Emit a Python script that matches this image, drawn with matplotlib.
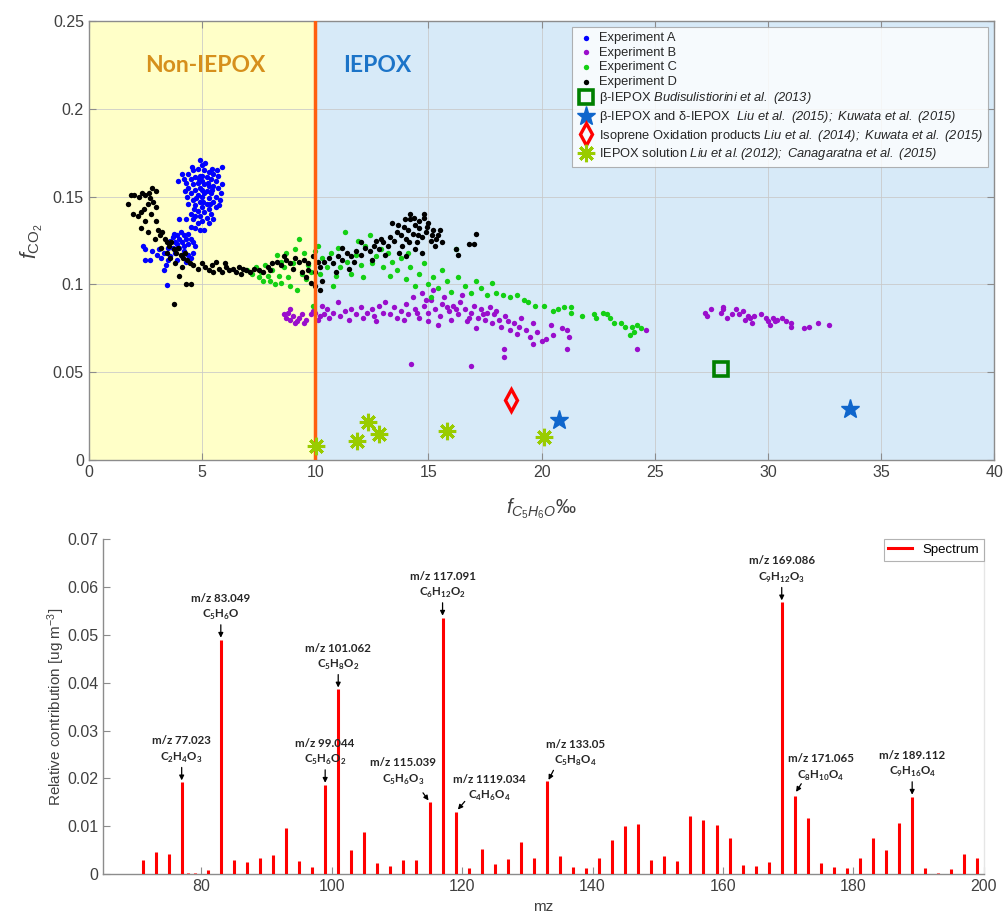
import numpy as np
import matplotlib
matplotlib.use("Agg")
import matplotlib.pyplot as plt
from matplotlib.ticker import FormatStrFormatter, MultipleLocator

plt.rcParams["font.family"] = ["Liberation Sans", "DejaVu Sans"]
plt.rcParams["mathtext.fontset"] = "custom"
plt.rcParams["mathtext.rm"] = "Liberation Sans"
plt.rcParams["mathtext.it"] = "Liberation Sans:italic"
plt.rcParams["mathtext.sf"] = "Liberation Sans:italic"
plt.rcParams["mathtext.bf"] = "Lato:bold"

# ---------- top panel: f_CO2 vs f_C5H6O ----------
exp_a = [
    (4.9, 0.171), (5.0, 0.168), (4.8, 0.166), (5.1, 0.165), (4.6, 0.165), (5.3, 0.164), (4.4, 0.163),
    (5.5, 0.163), (5.9, 0.167), (4.2, 0.160), (4.5, 0.160), (4.7, 0.161), (4.9, 0.162), (5.2, 0.161),
    (5.4, 0.160), (5.6, 0.159), (5.9, 0.157), (4.3, 0.158), (4.6, 0.157), (4.8, 0.158), (5.0, 0.159),
    (5.1, 0.157), (5.3, 0.156), (5.5, 0.156), (5.7, 0.155), (4.4, 0.155), (4.7, 0.154), (4.9, 0.155),
    (5.2, 0.153), (5.4, 0.152), (5.85, 0.152), (4.5, 0.152), (4.8, 0.151), (5.0, 0.150), (5.1, 0.152),
    (5.3, 0.149), (5.6, 0.150), (4.6, 0.148), (4.9, 0.147), (5.2, 0.146), (5.5, 0.147), (5.8, 0.148),
    (4.4, 0.146), (4.7, 0.145), (5.0, 0.144), (5.3, 0.143), (5.6, 0.144), (4.8, 0.142), (5.1, 0.141),
    (5.4, 0.140), (4.5, 0.140), (4.9, 0.139), (5.2, 0.138), (5.5, 0.137), (4.6, 0.137), (4.8, 0.135),
    (5.0, 0.136), (5.3, 0.135), (4.5, 0.133), (4.7, 0.132), (4.9, 0.131), (5.1, 0.131), (4.3, 0.137),
    (4.0, 0.137), (3.95, 0.159), (4.1, 0.163), (5.7, 0.162), (5.0, 0.162), (4.75, 0.149), (5.25, 0.158),
    (4.55, 0.167), (5.15, 0.169), (5.45, 0.166), (4.35, 0.150), (5.75, 0.145), (5.05, 0.147), (4.65, 0.143),
    (5.35, 0.146), (4.85, 0.160), (5.45, 0.154), (4.25, 0.153), (5.65, 0.165), (5.0, 0.154), (4.7, 0.139),
    (2.4, 0.122), (2.5, 0.120), (2.5, 0.114), (2.7, 0.114), (2.8, 0.119), (3.0, 0.117), (3.1, 0.120),
    (3.2, 0.115), (3.3, 0.118), (3.4, 0.111), (3.5, 0.114), (3.5, 0.121), (3.6, 0.125), (3.7, 0.127),
    (3.8, 0.124), (3.9, 0.128), (4.0, 0.126), (4.1, 0.124), (4.2, 0.128), (4.3, 0.126), (4.4, 0.123),
    (4.5, 0.126), (4.6, 0.124), (4.7, 0.122), (4.6, 0.118), (4.4, 0.117), (4.2, 0.119), (4.0, 0.121),
    (3.8, 0.118), (3.7, 0.121), (3.9, 0.114), (4.1, 0.116), (4.3, 0.113), (4.5, 0.115), (3.45, 0.0997),
    (3.3, 0.108), (3.6, 0.116), (4.2, 0.122), (3.9, 0.123), (4.4, 0.129), (3.75, 0.129), (4.05, 0.130),
]

exp_b = [
    (8.6, 0.083), (8.7, 0.081), (8.8, 0.084), (8.9, 0.080), (9.0, 0.082), (9.1, 0.078), (9.2, 0.079),
    (9.3, 0.081), (9.5, 0.078), (9.6, 0.080), (9.8, 0.083), (9.9, 0.085), (10.0, 0.084), (10.1, 0.080),
    (10.2, 0.082), (10.3, 0.088), (10.4, 0.083), (10.5, 0.086), (10.6, 0.081), (8.9, 0.086), (9.4, 0.083),
    (10.8, 0.084), (11.0, 0.090), (11.1, 0.082), (11.3, 0.085), (11.5, 0.080), (11.6, 0.086), (11.8, 0.083),
    (12.0, 0.087), (12.1, 0.081), (12.3, 0.084), (12.5, 0.086), (12.6, 0.082), (12.8, 0.088), (13.0, 0.084),
    (13.1, 0.090), (13.3, 0.083), (13.5, 0.087), (13.6, 0.081), (13.8, 0.085), (14.0, 0.089), (14.1, 0.083),
    (14.3, 0.093), (14.4, 0.086), (14.6, 0.081), (14.7, 0.095), (14.8, 0.088), (15.0, 0.084), (15.1, 0.091),
    (15.2, 0.097), (15.3, 0.086), (15.5, 0.082), (15.6, 0.089), (15.7, 0.093), (15.9, 0.085), (16.0, 0.080),
    (16.1, 0.088), (16.3, 0.083), (16.4, 0.090), (16.6, 0.086), (16.7, 0.079), (16.9, 0.084), (17.0, 0.088),
    (17.2, 0.081), (17.3, 0.086), (17.5, 0.080), (17.6, 0.084), (17.8, 0.078), (17.9, 0.083), (18.1, 0.080),
    (18.2, 0.076), (18.4, 0.082), (18.5, 0.079), (18.6, 0.074), (18.8, 0.078), (18.9, 0.072), (19.0, 0.076),
    (19.3, 0.074), (19.5, 0.070), (19.6, 0.078), (19.8, 0.073), (20.0, 0.068), (20.2, 0.069), (20.4, 0.077),
    (20.5, 0.071), (20.9, 0.075), (21.1, 0.074), (21.2, 0.070), (21.1, 0.063), (18.35, 0.063), (18.35, 0.059),
    (14.25, 0.055), (16.9, 0.0535), (19.6, 0.066), (24.2, 0.063), (24.6, 0.074), (15.4, 0.077), (17.1, 0.075),
    (12.7, 0.079), (19.1, 0.081), (16.5, 0.094), (14.9, 0.091), (16.2, 0.086), (17.7, 0.087), (13.9, 0.080),
    (15.0, 0.079), (16.8, 0.081), (18.0, 0.085), (14.5, 0.084), (15.8, 0.087), (17.4, 0.083),
    (27.2, 0.084), (27.3, 0.082), (27.5, 0.086), (27.9, 0.084), (28.0, 0.086), (28.2, 0.081), (28.4, 0.083),
    (28.6, 0.086), (28.7, 0.083), (28.9, 0.085), (29.0, 0.080), (29.1, 0.082), (29.2, 0.081), (29.3, 0.078),
    (29.4, 0.082), (29.7, 0.083), (29.9, 0.081), (30.0, 0.079), (30.1, 0.077), (30.2, 0.081), (30.4, 0.080),
    (30.6, 0.081), (30.8, 0.079), (31.0, 0.078), (31.0, 0.076), (31.6, 0.075), (31.8, 0.076), (32.2, 0.078),
    (32.7, 0.077), (28.0, 0.087), (30.3, 0.079),
]

exp_c = [
    (7.0, 0.108), (7.2, 0.106), (7.4, 0.110), (7.5, 0.104), (7.6, 0.107), (7.8, 0.111), (7.9, 0.105),
    (8.0, 0.102), (8.1, 0.108), (8.3, 0.117), (8.4, 0.105), (8.5, 0.101), (8.6, 0.110), (8.7, 0.118),
    (8.8, 0.104), (8.9, 0.099), (9.0, 0.112), (9.1, 0.120), (9.2, 0.097), (9.3, 0.126), (9.4, 0.106),
    (9.5, 0.118), (9.6, 0.103), (9.7, 0.111), (9.8, 0.107), (10.0, 0.119), (10.1, 0.122), (10.2, 0.106),
    (10.3, 0.115), (9.9, 0.088), (8.2, 0.100), (10.5, 0.110), (10.7, 0.118), (10.9, 0.105), (11.0, 0.121),
    (11.1, 0.110), (11.3, 0.130), (11.4, 0.113), (11.6, 0.106), (11.8, 0.117), (12.0, 0.111), (12.2, 0.122),
    (12.4, 0.128), (12.5, 0.112), (12.7, 0.116), (12.9, 0.120), (13.0, 0.110), (13.2, 0.118), (13.4, 0.113),
    (13.6, 0.108), (13.8, 0.115), (14.0, 0.103), (14.2, 0.110), (14.4, 0.099), (14.6, 0.106), (14.8, 0.112),
    (15.0, 0.100), (15.2, 0.104), (15.4, 0.098), (15.6, 0.108), (15.8, 0.102), (16.0, 0.096), (16.2, 0.120),
    (16.3, 0.104), (16.6, 0.099), (16.9, 0.095), (17.1, 0.102), (17.3, 0.098), (17.6, 0.094), (17.8, 0.101),
    (18.0, 0.095), (18.3, 0.094), (18.6, 0.093), (18.9, 0.094), (19.2, 0.091), (19.4, 0.090), (19.7, 0.088),
    (20.1, 0.088), (20.5, 0.085), (20.7, 0.086), (21.0, 0.087), (21.3, 0.087), (21.3, 0.084), (21.8, 0.082),
    (22.3, 0.083), (22.4, 0.081), (22.7, 0.084), (22.9, 0.083), (23.0, 0.081), (23.2, 0.078), (23.5, 0.078),
    (23.7, 0.076), (23.9, 0.071), (24.0, 0.076), (24.2, 0.077), (24.4, 0.075), (24.1, 0.073), (11.9, 0.125),
    (10.8, 0.099), (15.1, 0.093), (13.3, 0.105), (7.7, 0.102), (8.5, 0.113), (12.1, 0.104), (14.1, 0.118),
]

exp_d = [
    (1.75, 0.146), (1.85, 0.151), (2.0, 0.151), (2.2, 0.150), (2.35, 0.152), (2.5, 0.151), (2.65, 0.152),
    (2.8, 0.155), (2.95, 0.153), (1.95, 0.140), (2.15, 0.139), (2.3, 0.141), (2.45, 0.143), (2.6, 0.146),
    (2.7, 0.149), (2.85, 0.147), (2.95, 0.144), (2.75, 0.140), (2.5, 0.136), (2.3, 0.132), (2.6, 0.130),
    (2.95, 0.136), (3.05, 0.131), (3.15, 0.128), (3.25, 0.130), (2.9, 0.126), (3.35, 0.126), (3.45, 0.124),
    (3.55, 0.122), (3.65, 0.124), (3.75, 0.120), (3.85, 0.118), (3.95, 0.121), (4.05, 0.117), (4.15, 0.115),
    (4.25, 0.118), (4.35, 0.114), (4.45, 0.112), (3.6, 0.115), (3.45, 0.118), (3.2, 0.121), (3.8, 0.112),
    (4.0, 0.105), (4.3, 0.100), (4.5, 0.100), (3.75, 0.089), (4.1, 0.110),
    (4.6, 0.111), (4.8, 0.109), (5.0, 0.112), (5.15, 0.110), (5.3, 0.108), (5.45, 0.111), (5.6, 0.113),
    (5.75, 0.109), (5.9, 0.107), (6.05, 0.110), (6.2, 0.108), (6.35, 0.109), (6.5, 0.107), (6.65, 0.110),
    (6.8, 0.109), (6.95, 0.108), (7.1, 0.107), (7.3, 0.109), (7.5, 0.108), (7.7, 0.107), (7.9, 0.110),
    (8.1, 0.112), (8.3, 0.113), (8.5, 0.111), (8.7, 0.114), (8.9, 0.112), (9.1, 0.115), (9.3, 0.113),
    (9.5, 0.114), (9.7, 0.112), (9.9, 0.116), (10.1, 0.113), (6.0, 0.112), (5.5, 0.107), (6.7, 0.106),
    (8.0, 0.108), (8.6, 0.116), (9.0, 0.109), (9.4, 0.107), (9.6, 0.104), (9.8, 0.101), (10.0, 0.099),
    (10.2, 0.097), (10.3, 0.102), (9.7, 0.108), (10.0, 0.107), (10.2, 0.110),
    (10.4, 0.113), (10.6, 0.115), (10.8, 0.112), (11.0, 0.116), (11.2, 0.114), (11.4, 0.118), (11.6, 0.116),
    (11.8, 0.119), (12.0, 0.117), (12.2, 0.121), (12.4, 0.119), (12.6, 0.122), (12.8, 0.120), (13.0, 0.124),
    (13.2, 0.122), (13.3, 0.127), (13.5, 0.125), (13.6, 0.130), (13.8, 0.128), (13.9, 0.133), (14.0, 0.126),
    (14.1, 0.131), (14.2, 0.137), (14.3, 0.129), (14.4, 0.134), (14.5, 0.124), (14.6, 0.132), (14.7, 0.127),
    (14.8, 0.138), (14.9, 0.130), (15.0, 0.135), (15.1, 0.125), (15.2, 0.131), (15.3, 0.122), (15.4, 0.128),
    (14.2, 0.140), (14.8, 0.140), (13.4, 0.135), (13.7, 0.118), (14.0, 0.116), (14.4, 0.120), (14.7, 0.118),
    (12.5, 0.114), (11.5, 0.109), (10.9, 0.107), (12.9, 0.126), (15.6, 0.124), (16.2, 0.120), (16.3, 0.117),
    (16.8, 0.123), (17.0, 0.123), (17.1, 0.129), (11.2, 0.121), (12.0, 0.124), (13.1, 0.117), (14.6, 0.136),
    (13.65, 0.134), (14.35, 0.138), (14.95, 0.133), (15.15, 0.128), (13.85, 0.122), (14.15, 0.124),
    (14.55, 0.128), (15.35, 0.126), (12.7, 0.125), (13.95, 0.137), (15.5, 0.131), (11.7, 0.113),
]

beta_iepox = [(27.9, 0.052)]
beta_delta_iepox = [(20.75, 0.023), (33.6, 0.029)]
isoprene_ox = [(18.65, 0.0345)]
iepox_solution = [(10.05, 0.008), (11.85, 0.011), (12.35, 0.022), (12.8, 0.015), (15.8, 0.0165), (20.1, 0.013)]

# ---------- bottom panel: spectrum ----------
mz = [71, 73, 75, 77, 78, 79, 81, 83, 85, 87, 89, 91, 93, 95, 97, 99, 101, 103, 105, 107, 109,
      111, 113, 115, 117, 119, 121, 123, 125, 127, 129, 131, 133, 135, 137, 139, 141, 143, 145,
      147, 149, 151, 153, 155, 157, 159, 161, 163, 165, 167, 169, 171, 173, 175, 177, 179, 181,
      183, 185, 187, 189, 191, 193, 195, 197, 199]
contribution = [0.0030, 0.0047, 0.0043, 0.0192, 0.0003, 0.0002, 0.0009, 0.0490, 0.0030, 0.0025,
                0.0033, 0.0041, 0.0096, 0.0028, 0.0016, 0.0187, 0.0386, 0.0050, 0.0089, 0.0024,
                0.0017, 0.0030, 0.0029, 0.0150, 0.0536, 0.0130, 0.0013, 0.0052, 0.0021, 0.0031,
                0.0067, 0.0033, 0.0194, 0.0038, 0.0014, 0.0013, 0.0033, 0.0072, 0.0101, 0.0104,
                0.0030, 0.0037, 0.0028, 0.0121, 0.0113, 0.0103, 0.0076, 0.0019, 0.0017, 0.0026,
                0.0568, 0.0164, 0.0118, 0.0023, 0.0015, 0.0013, 0.0033, 0.0075, 0.0050, 0.0107,
                0.0162, 0.0012, 0.0003, 0.0010, 0.0042, 0.0033]

# labelled peaks: nominal mass, accurate mass label, formula
peak_mz = [77, 83, 99, 101, 115, 117, 119, 133, 169, 171, 189]
peak_names = ["m/z 77.023", "m/z 83.049", "m/z 99.044", "m/z 101.062", "m/z 115.039", "m/z 117.091",
              "m/z 1119.034", "m/z 133.05", "m/z 169.086", "m/z 171.065", "m/z 189.112"]
peak_formulas = [r"C$_\mathbf{2}$H$_\mathbf{4}$O$_\mathbf{3}$", r"C$_\mathbf{5}$H$_\mathbf{6}$O",
                 r"C$_\mathbf{5}$H$_\mathbf{6}$O$_\mathbf{2}$", r"C$_\mathbf{5}$H$_\mathbf{8}$O$_\mathbf{2}$",
                 r"C$_\mathbf{5}$H$_\mathbf{6}$O$_\mathbf{3}$", r"C$_\mathbf{6}$H$_\mathbf{12}$O$_\mathbf{2}$",
                 r"C$_\mathbf{4}$H$_\mathbf{6}$O$_\mathbf{4}$", r"C$_\mathbf{5}$H$_\mathbf{8}$O$_\mathbf{4}$",
                 r"C$_\mathbf{9}$H$_\mathbf{12}$O$_\mathbf{3}$", r"C$_\mathbf{8}$H$_\mathbf{10}$O$_\mathbf{4}$",
                 r"C$_\mathbf{9}$H$_\mathbf{16}$O$_\mathbf{4}$"]
# offsets (dx, dy) of text, arrow tail and arrow head from the peak top
label_offsets = {
    115: ((-4.0, 0.0033), (-1.0, 0.0020), (-0.15, 0.0004)),
    119: ((5.2, 0.0018), (1.4, 0.0022), (0.35, 0.0005)),
    133: ((4.4, 0.0027), (1.0, 0.0023), (0.25, 0.0003)),
    171: ((4.0, 0.0027), (1.0, 0.0025), (0.2, 0.0008)),
}
straight_offset = ((0.0, 0.0036), (0.0, 0.0031), (0.0, 0.0004))

fig = plt.figure(figsize=(10.04, 9.13), dpi=100)
ax1 = fig.add_axes([0.0885, 0.496, 0.902, 0.481])
ax2 = fig.add_axes([0.103, 0.0425, 0.877, 0.367])

axis_grey = "#8c8c8c"
text_grey = "#404040"

# regions
ax1.axvspan(0, 10, color="#FFFFC8", zorder=0)
ax1.axvspan(10, 40, color="#D7EAF8", zorder=0)
ax1.grid(True, color="#c8c8c8", lw=0.7, alpha=0.8, zorder=1)
ax1.set_axisbelow(True)

for data, col, lab in [(exp_a, "#0000FF", "Experiment A"), (exp_b, "#9A0ECC", "Experiment B"),
                       (exp_c, "#14D014", "Experiment C"), (exp_d, "#000000", "Experiment D")]:
    arr = np.array(data)
    ax1.scatter(arr[:, 0], arr[:, 1], s=15, color=col, lw=0, label=lab, zorder=3)

ax1.axvline(10, color="#FF5F0F", lw=2.5, zorder=4)

arr = np.array(beta_iepox)
ax1.plot(arr[:, 0], arr[:, 1], ls="none", marker="s", ms=10.5, mfc="none", mec="#008000", mew=2.6, zorder=5,
         label=r"β-IEPOX $\mathsf{Budisulistiorini\ et\ al.\ (2013)}$")
arr = np.array(beta_delta_iepox)
ax1.plot(arr[:, 0], arr[:, 1], ls="none", marker="*", ms=14, color="#0F66CC", zorder=5,
         label=r"β-IEPOX and δ-IEPOX  $\mathsf{Liu\ et\ al.\ (2015);\ Kuwata\ et\ al.\ (2015)}$")
arr = np.array(isoprene_ox)
ax1.plot(arr[:, 0], arr[:, 1], ls="none", marker="d", ms=11, mfc="none", mec="#FF0000", mew=2.4, zorder=5,
         label=r"Isoprene Oxidation products $\mathsf{Liu\ et\ al.\ (2014);\ Kuwata\ et\ al.\ (2015)}$")
arr = np.array(iepox_solution)
ax1.plot(arr[:, 0], arr[:, 1], ls="none", marker=(8, 2, 0), ms=12.5, mec="#99CC00", mew=2.2, zorder=5,
         label=r"IEPOX solution $\mathsf{Liu\ et\ al.(2012);\ Canagaratna\ et\ al.\ (2015)}$")

ax1.text(5.15, 0.2245, "Non-IEPOX", color="#D6901C", fontsize=16.5, fontweight="bold",
         family=["Lato", "DejaVu Sans"], ha="center", va="center", zorder=6)
ax1.text(12.75, 0.2245, "IEPOX", color="#1C74C8", fontsize=16.5, fontweight="bold",
         family=["Lato", "DejaVu Sans"], ha="center", va="center", zorder=6)

ax1.set_xlim(0, 40)
ax1.set_ylim(0, 0.25)
ax1.xaxis.set_major_locator(MultipleLocator(5))
ax1.yaxis.set_major_locator(MultipleLocator(0.05))
ax1.yaxis.set_major_formatter(FormatStrFormatter("%g"))
ax1.set_xlabel(r"$f_{C_5H_6O}$‰", fontsize=14.5, color=text_grey, labelpad=12)
ax1.set_ylabel(r"$f_{\mathrm{CO}_2}$", fontsize=15.5, color=text_grey, labelpad=6)

leg1 = ax1.legend(loc="upper right", fontsize=9.3, frameon=True, fancybox=False, borderaxespad=0.5,
                  handletextpad=0.25, labelspacing=0.2, handlelength=1.5, borderpad=0.35)
leg1.get_frame().set_edgecolor("#a0a0a0")
leg1.get_frame().set_linewidth(0.8)
for lh in leg1.legend_handles[:4]:
    lh.set_sizes([15])
for t in leg1.get_texts():
    t.set_color("#262626")

# spectrum
ax2.vlines(mz, 0, contribution, color="#FF0000", lw=2.2, zorder=3)
ax2.plot([], [], color="#FF0000", lw=2.2, label="Spectrum")

height = dict(zip(mz, contribution))
for m, name, formula in zip(peak_mz, peak_names, peak_formulas):
    top = height[m]
    (tdx, tdy), (adx, ady), (hdx, hdy) = label_offsets.get(m, straight_offset)
    ax2.text(m + tdx, top + tdy, name + "\n" + formula, ha="center", va="bottom", multialignment="center",
             fontsize=8.3, fontweight="bold", family=["Lato", "DejaVu Sans"], color="#262626",
             linespacing=1.45, zorder=5)
    ax2.annotate("", xy=(m + hdx, top + hdy), xytext=(m + adx, top + ady),
                 arrowprops=dict(arrowstyle="-|>", color="black", lw=0.9, mutation_scale=7,
                                 shrinkA=0, shrinkB=0), zorder=5)

ax2.set_xlim(65, 200)
ax2.set_ylim(0, 0.07)
ax2.xaxis.set_major_locator(MultipleLocator(20))
ax2.yaxis.set_major_locator(MultipleLocator(0.01))
ax2.yaxis.set_major_formatter(FormatStrFormatter("%g"))
ax2.set_xlabel("mz", fontsize=11, color=text_grey, labelpad=4)
ax2.set_ylabel(r"Relative contribution [ug m$^{-3}$]", fontsize=11, color=text_grey, labelpad=0)
leg2 = ax2.legend(loc="upper right", fontsize=9.5, frameon=True, fancybox=False, borderaxespad=0.0,
                  handlelength=1.8, borderpad=0.35)
leg2.get_frame().set_edgecolor("#a0a0a0")
leg2.get_frame().set_linewidth(0.8)

for ax in (ax1, ax2):
    ax.tick_params(direction="in", length=5, width=0.8, color=axis_grey, labelsize=11.5, labelcolor=text_grey,
                   top=False, right=False)
    for sp in ax.spines.values():
        sp.set_color(axis_grey)
        sp.set_linewidth(1.0)
ax1.tick_params(top=True, right=True)
ax2.spines["top"].set_visible(False)
ax2.spines["right"].set_color("#e6e6e6")

fig.savefig("out.png", dpi=100)
